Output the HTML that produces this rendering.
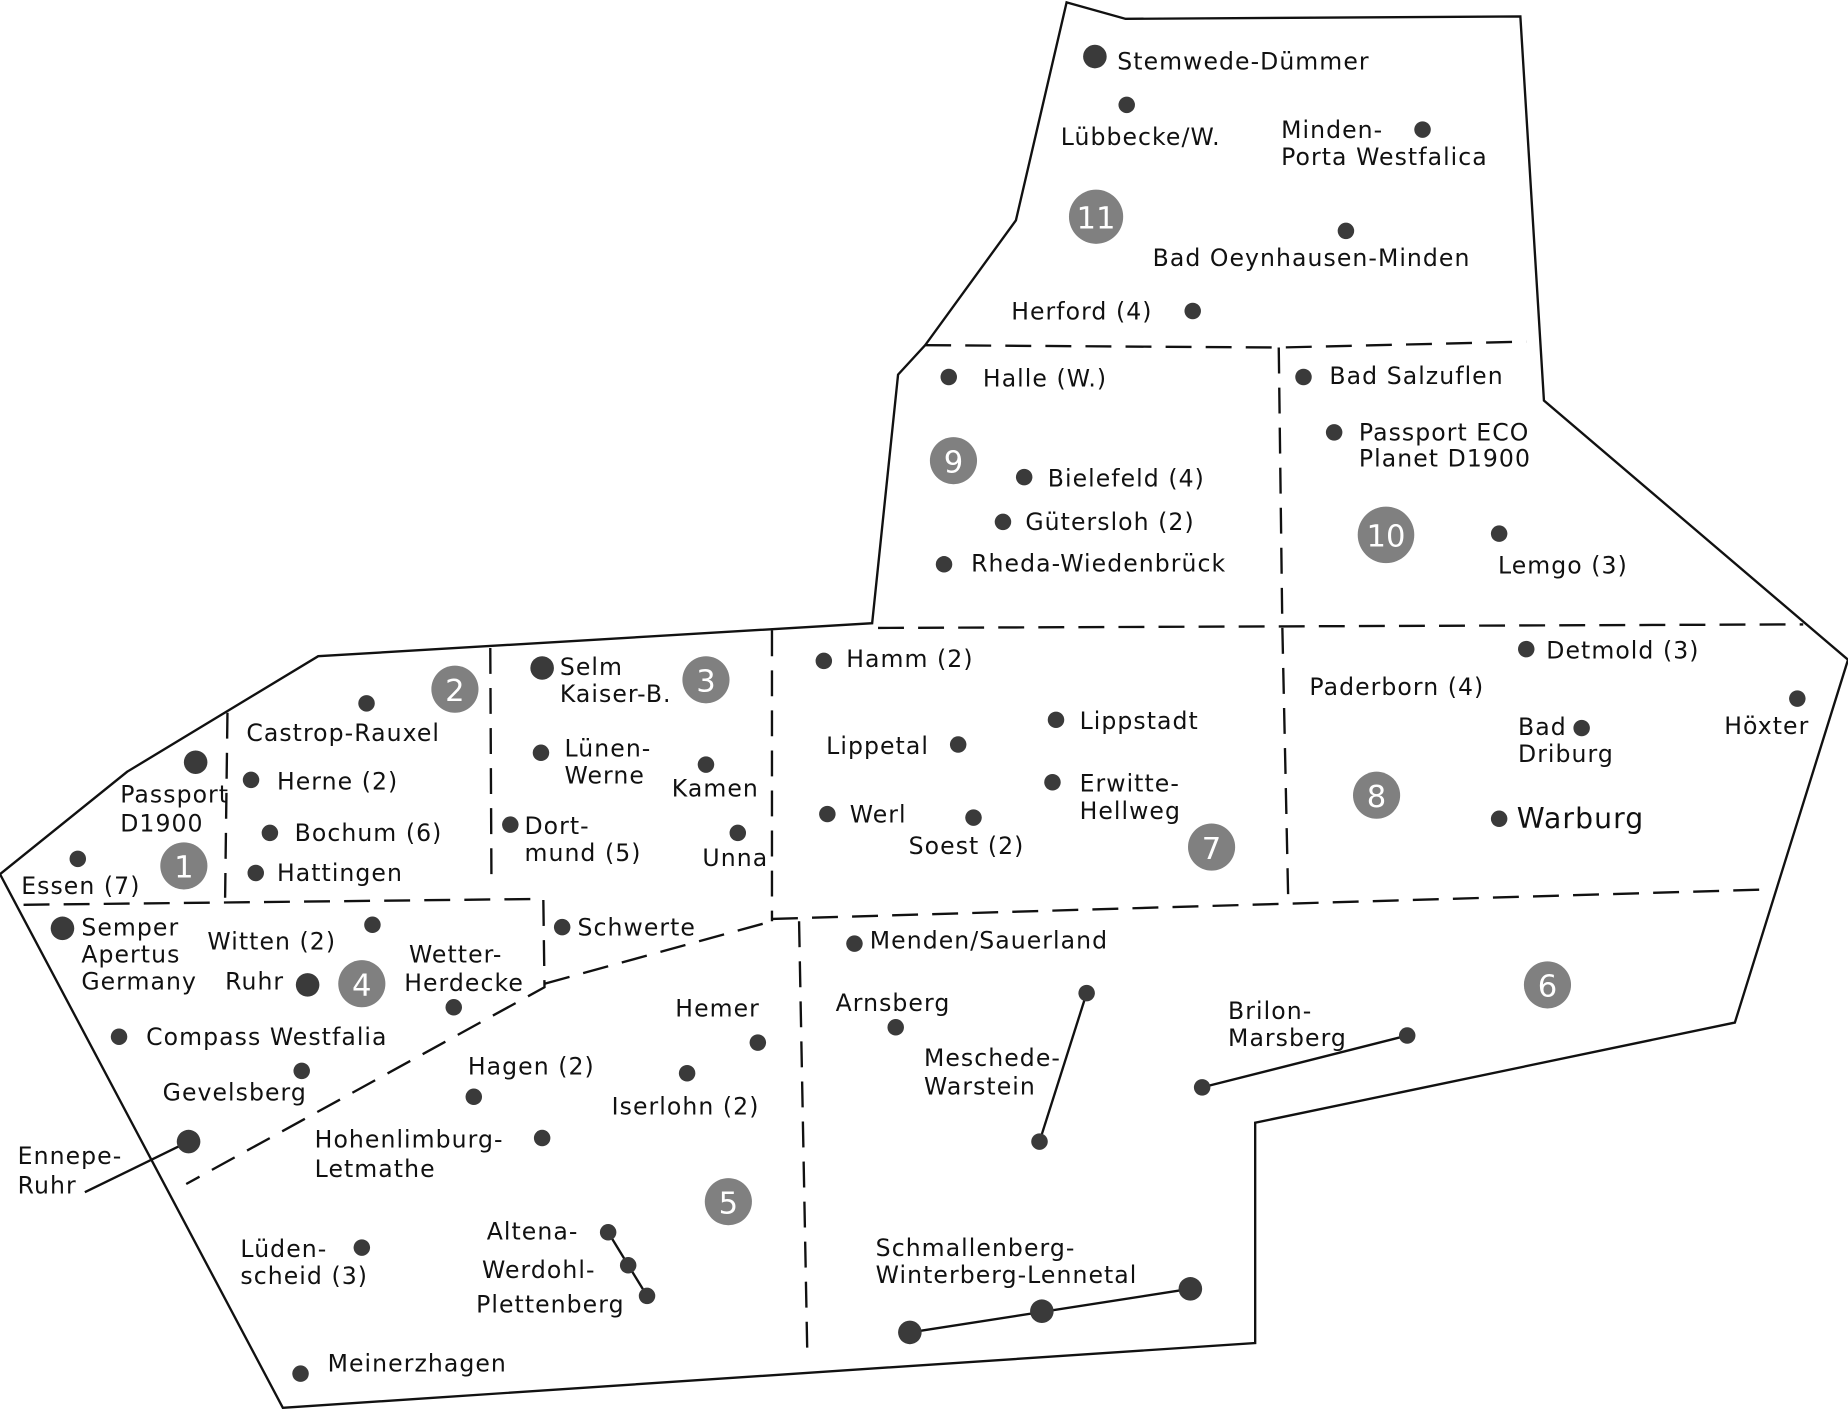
<!DOCTYPE html>
<html><head><meta charset="utf-8"><style>
html,body{margin:0;padding:0;background:#fff}
svg{display:block}
text{font-family:"DejaVu Sans","Liberation Sans",sans-serif;font-size:20px;fill:#111;letter-spacing:0.9px}
.n{fill:#fff;font-size:26px;text-anchor:middle;letter-spacing:0}
</style></head><body>
<svg width="1848" height="1409" viewBox="0 0 1568 1196" preserveAspectRatio="none">
<polygon points="905,2 955,16 1290,14 1310,340 1568,560 1472,868 1065,953 1065,1140 240,1195 0,742 108,655 270,557 740,529 762,318 785,293 862,187" fill="#fff" stroke="#111" stroke-width="2"/>
<g stroke="#111" stroke-width="2" fill="none" stroke-dasharray="22,12">
<path d="M785,293 L1085,295 L1295,290"/>
<path d="M1085,295 L1088,530 L1093,762"/>
<path d="M745,533 L1530,530"/>
<path d="M655,535 L655,782"/>
<path d="M416,550 L417,750"/>
<path d="M193,605 L191,762"/>
<path d="M20,768 L461,763 L462,838 L158,1005"/>
<path d="M462,835 L655,782"/>
<path d="M655,780 L1500,755"/>
<path d="M678,782 L685,1150"/>
</g>
<g stroke="#111" stroke-width="2">
<line x1="160" y1="969" x2="72" y2="1012"/>
<line x1="922" y1="843" x2="882" y2="969"/>
<line x1="1194" y1="879" x2="1020" y2="923"/>
<line x1="516" y1="1046" x2="549" y2="1100"/>
<line x1="772" y1="1131" x2="1010" y2="1094"/>
</g>
<g fill="#3a3a3a">
<circle cx="929" cy="48" r="10"/><circle cx="956" cy="89" r="7"/><circle cx="1207" cy="110" r="7"/>
<circle cx="1142" cy="196" r="7"/><circle cx="1012" cy="264" r="7"/>
<circle cx="805" cy="320" r="7"/><circle cx="1106" cy="320" r="7"/><circle cx="1132" cy="367" r="7"/>
<circle cx="869" cy="405" r="7"/><circle cx="851" cy="443" r="7"/><circle cx="801" cy="479" r="7"/><circle cx="1272" cy="453" r="7"/>
<circle cx="699" cy="561" r="7"/><circle cx="1295" cy="551" r="7"/><circle cx="896" cy="611" r="7"/><circle cx="813" cy="632" r="7"/>
<circle cx="1342" cy="618" r="7"/><circle cx="1525" cy="593" r="7"/><circle cx="893" cy="664" r="7"/><circle cx="702" cy="691" r="7"/>
<circle cx="826" cy="694" r="7"/><circle cx="1272" cy="695" r="7"/>
<circle cx="311" cy="597" r="7"/><circle cx="460" cy="567" r="10"/><circle cx="599" cy="649" r="7"/><circle cx="459" cy="639" r="7"/>
<circle cx="166" cy="647" r="10"/><circle cx="213" cy="662" r="7"/><circle cx="229" cy="707" r="7"/><circle cx="217" cy="741" r="7"/>
<circle cx="433" cy="700" r="7"/><circle cx="626" cy="707" r="7"/><circle cx="66" cy="729" r="7"/>
<circle cx="53" cy="788" r="10"/><circle cx="316" cy="785" r="7"/><circle cx="477" cy="787" r="7"/><circle cx="261" cy="836" r="10"/>
<circle cx="385" cy="855" r="7"/><circle cx="101" cy="880" r="7"/><circle cx="256" cy="909" r="7"/><circle cx="160" cy="969" r="10"/>
<circle cx="402" cy="931" r="7"/><circle cx="460" cy="966" r="7"/><circle cx="583" cy="911" r="7"/><circle cx="643" cy="885" r="7"/>
<circle cx="725" cy="801" r="7"/><circle cx="760" cy="872" r="7"/><circle cx="922" cy="843" r="7"/><circle cx="882" cy="969" r="7"/>
<circle cx="1194" cy="879" r="7"/><circle cx="1020" cy="923" r="7"/>
<circle cx="307" cy="1059" r="7"/><circle cx="516" cy="1046" r="7"/><circle cx="533" cy="1074" r="7"/><circle cx="549" cy="1100" r="7"/>
<circle cx="255" cy="1166" r="7"/><circle cx="772" cy="1131" r="10"/><circle cx="884" cy="1113" r="10"/><circle cx="1010" cy="1094" r="10"/>
</g>
<g fill="#808080">
<circle cx="156" cy="735" r="20"/><circle cx="386" cy="585" r="20"/><circle cx="599" cy="577" r="20"/><circle cx="307" cy="835" r="20"/>
<circle cx="618" cy="1020" r="20"/><circle cx="1313" cy="836" r="20"/><circle cx="1028" cy="719" r="20"/><circle cx="1168" cy="675" r="20"/>
<circle cx="809" cy="391" r="20"/><circle cx="1176" cy="454" r="24"/><circle cx="930" cy="184" r="23"/>
</g>
<g>
<text class="n" x="156" y="745">1</text><text class="n" x="386" y="595">2</text><text class="n" x="599" y="587">3</text><text class="n" x="307" y="845">4</text>
<text class="n" x="618" y="1030">5</text><text class="n" x="1313" y="846">6</text><text class="n" x="1028" y="729">7</text><text class="n" x="1168" y="685">8</text>
<text class="n" x="809" y="401">9</text><text class="n" x="1176" y="464">10</text><text class="n" x="930" y="194">11</text>
</g>
<text x="948" y="59">Stemwede-Dümmer</text>
<text x="900" y="123">Lübbecke/W.</text>
<text x="1087" y="117">Minden-</text><text x="1087" y="140">Porta Westfalica</text>
<text x="978" y="226">Bad Oeynhausen-Minden</text>
<text x="858" y="271">Herford (4)</text>
<text x="834" y="328">Halle (W.)</text>
<text x="1128" y="326">Bad Salzuflen</text>
<text x="1153" y="374">Passport ECO</text><text x="1153" y="396">Planet D1900</text>
<text x="889" y="413">Bielefeld (4)</text>
<text x="870" y="450">Gütersloh (2)</text>
<text x="824" y="485">Rheda-Wiedenbrück</text>
<text x="1271" y="487">Lemgo (3)</text>
<text x="718" y="566">Hamm (2)</text>
<text x="1312" y="559">Detmold (3)</text>
<text x="1111" y="590">Paderborn (4)</text>
<text x="916" y="619">Lippstadt</text>
<text x="701" y="640">Lippetal</text>
<text x="1288" y="624">Bad</text><text x="1288" y="647">Driburg</text>
<text x="1463" y="623">Höxter</text>
<text x="916" y="672">Erwitte-</text><text x="916" y="695">Hellweg</text>
<text x="721" y="698">Werl</text>
<text x="771" y="725">Soest (2)</text>
<text x="1287" y="703" style="font-size:24px">Warburg</text>
<text x="475" y="573">Selm</text><text x="475" y="596">Kaiser-B.</text>
<text x="209" y="629">Castrop-Rauxel</text>
<text x="479" y="642">Lünen-</text><text x="479" y="665">Werne</text>
<text x="570" y="676">Kamen</text>
<text x="102" y="681">Passport</text><text x="102" y="706">D1900</text>
<text x="235" y="670">Herne (2)</text>
<text x="250" y="714">Bochum (6)</text>
<text x="445" y="708">Dort-</text><text x="445" y="731">mund (5)</text>
<text x="596" y="735">Unna</text>
<text x="235" y="748">Hattingen</text>
<text x="18" y="759">Essen (7)</text>
<text x="69" y="794">Semper</text><text x="69" y="817">Apertus</text><text x="69" y="840">Germany</text>
<text x="176" y="806">Witten (2)</text>
<text x="191" y="840">Ruhr</text>
<text x="347" y="817">Wetter-</text><text x="343" y="841">Herdecke</text>
<text x="490" y="794">Schwerte</text>
<text x="124" y="887">Compass Westfalia</text>
<text x="138" y="934">Gevelsberg</text>
<text x="15" y="988">Ennepe-</text><text x="15" y="1013">Ruhr</text>
<text x="397" y="912">Hagen (2)</text>
<text x="267" y="974">Hohenlimburg-</text><text x="267" y="999">Letmathe</text>
<text x="573" y="863">Hemer</text>
<text x="519" y="946">Iserlohn (2)</text>
<text x="738" y="805">Menden/Sauerland</text>
<text x="709" y="858">Arnsberg</text>
<text x="784" y="905">Meschede-</text><text x="784" y="929">Warstein</text>
<text x="1042" y="865">Brilon-</text><text x="1042" y="888">Marsberg</text>
<text x="204" y="1067">Lüden-</text><text x="204" y="1090">scheid (3)</text>
<text x="413" y="1052">Altena-</text>
<text x="409" y="1085">Werdohl-</text>
<text x="404" y="1114">Plettenberg</text>
<text x="743" y="1066">Schmallenberg-</text><text x="743" y="1089">Winterberg-Lennetal</text>
<text x="278" y="1164">Meinerzhagen</text>
</svg>
</body></html>
